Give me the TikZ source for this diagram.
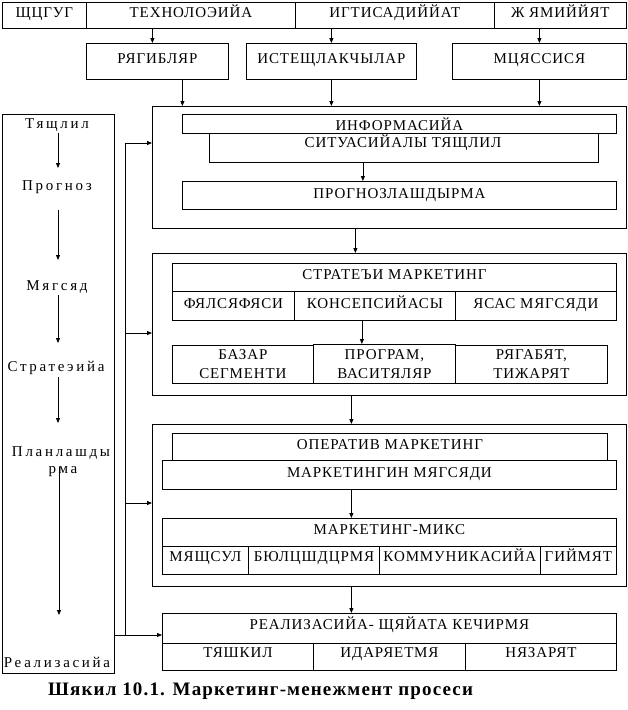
\documentclass[tikz,border=0pt]{standalone}
\usepackage{fontspec}
\setmainfont{Liberation Serif}[LetterSpace=6]
\newfontfamily\lcolfont{Liberation Serif}[LetterSpace=18]
\newfontfamily\capfont{Liberation Serif}[LetterSpace=6]
\usetikzlibrary{arrows.meta}
\newcommand\bx[6]{\node[box,minimum width=#4pt,minimum height=#5pt] (#1) at (#2,#3) {#6};}
\begin{document}
\begin{tikzpicture}[x=1pt,y=-1pt,
  every node/.style={font=\fontsize{15}{19}\selectfont},
  box/.style={draw,line width=0.8pt,inner sep=0pt,anchor=north west,align=center},
  cell/.style={text height=10pt,text depth=5pt},
  arr/.style={line width=0.8pt,-{Triangle[length=5pt,width=4pt]}},
  ln/.style={line width=0.8pt},
  lbl/.style={inner sep=0pt,font=\lcolfont\fontsize{15}{19}\selectfont}]
\useasboundingbox (0,0) rectangle (627,710);
% top row
\begin{scope}[every node/.append style={cell}]
\bx{t1}{2}{2}{84}{26}{ЩЦГУГ}
\bx{t2}{86}{2}{209}{26}{ТЕХНОЛОЭИЙА}
\bx{t3}{295}{2}{199}{26}{ИГТИСАДИЙЙАТ}
\bx{t4}{494}{2}{132}{26}{Ж ЯМИЙЙЯТ}
% second row
\bx{s1}{86}{43}{142}{36}{РЯГИБЛЯР}
\bx{s2}{246}{43}{170}{36}{ИСТЕЩЛАКЧЫЛАР}
\bx{s3}{452}{43}{174}{36}{МЦЯССИСЯ}
\end{scope}
% box 1
\bx{b1}{152}{106}{474}{122}{}
\bx{i1}{182}{114}{434}{19}{ИНФОРМАСИЙА}
\bx{i2}{209}{133}{389}{29}{}
\node[inner sep=0pt] (i2t) at (403,143) {СИТУАСИЙАЛЫ ТЯЩЛИЛ};
\bx{i3}{182}{181}{434}{28}{ПРОГНОЗЛАШДЫРМА}
% box 2
\bx{b2}{152}{253}{474}{142}{}
\begin{scope}[every node/.append style={cell}]
\bx{c1}{172}{263}{444}{28}{СТРАТЕЪИ МАРКЕТИНГ}
\bx{c2}{172}{291}{122}{29}{ФЯЛСЯФЯСИ}
\bx{c3}{294}{291}{161}{29}{КОНСЕПСИЙАСЫ}
\bx{c4}{455}{291}{161}{29}{ЯСАС МЯГСЯДИ}
\end{scope}
\bx{d1}{172}{345}{141}{38}{БАЗАР\\СЕГМЕНТИ}
\bx{d2}{313}{344}{142}{39}{ПРОГРАМ,\\ВАСИТЯЛЯР}
\bx{d3}{455}{345}{152}{38}{РЯГАБЯТ,\\ТИЖАРЯТ}
% box 3
\bx{b3}{152}{424}{474}{162}{}
\begin{scope}[every node/.append style={cell}]
\bx{e1}{172}{433}{435}{27}{ОПЕРАТИВ МАРКЕТИНГ}
\bx{e2}{162}{460}{454}{29}{МАРКЕТИНГИН МЯГСЯДИ}
\bx{f1}{162}{518}{454}{28}{МАРКЕТИНГ-МИКС}
\end{scope}
\begin{scope}[every node/.append style={text height=10pt,text depth=8pt}]
\bx{f2}{162}{546}{86}{28}{МЯЩСУЛ}
\bx{f3}{248}{546}{131}{28}{БЮЛЦШДЦРМЯ}
\bx{f4}{379}{546}{161}{28}{КОММУНИКАСИЙА}
\bx{f5}{540}{546}{76}{28}{ГИЙМЯТ}
% last box
\bx{g1}{162}{613}{454}{30}{РЕАЛИЗАСИЙА- ЩЯЙАТА КЕЧИРМЯ}
\bx{g2}{162}{643}{151}{27}{ТЯШКИЛ}
\bx{g3}{313}{643}{152}{27}{ИДАРЯЕТМЯ}
\bx{g4}{465}{643}{151}{27}{НЯЗАРЯТ}
\end{scope}
% left column
\bx{lb}{2}{114}{112}{559}{}
\node[lbl] (l1) at (57,125) {Тящлил};
\node[lbl] (l2) at (57,187) {Прогноз};
\node[lbl] (l3) at (57,287) {Мягсяд};
\node[lbl] (l4) at (56,368) {Стратеэийа};
\node[lbl] (l5) at (61,453) {Планлашды};
\node[lbl] (l5b) at (63,472) {рма};
\node[lbl] (l6) at (57,662) {Реализасийа};
% captions
\node[inner sep=0pt,anchor=base west,font=\capfont\bfseries\fontsize{19}{22}\selectfont] (cap) at (48,695) {Шякил 10.1. Маркетинг-менежмент просеси};
% arrows top
\draw[arr] ([xshift=-5pt]s1.north |- t2.south) -- ([xshift=-5pt]s1.north);
\draw[arr] (s2.north |- t3.south) -- (s2.north);
\draw[arr] (s3.north |- t4.south) -- (s3.north);
\draw[arr] ([xshift=25pt]s1.south) -- ([xshift=25pt]s1.south |- b1.north);
\draw[arr] (s2.south) -- (s2.south |- b1.north);
\draw[arr] (s3.south) -- (s3.south |- b1.north);
% inner arrows
\draw[arr] ([xshift=-41pt]i2.south) -- ([xshift=-41pt]i2.south |- i3.north);
\draw[arr] ([xshift=-34pt]b1.south) -- ([xshift=-34pt]b1.south |- b2.north);
\draw[arr] ([xshift=-13pt]c3.south) -- ([xshift=-13pt]c3.south |- d2.north);
\draw[arr] ([xshift=-38pt]b2.south) -- ([xshift=-38pt]b2.south |- b3.north);
\draw[arr] ([xshift=-38pt]e2.south) -- ([xshift=-38pt]e2.south |- f1.north);
\draw[arr] ([xshift=-38pt]b3.south) -- ([xshift=-38pt]b3.south |- g1.north);
% feedback line
\coordinate (j1) at (125,143);
\coordinate (j2) at (125,333);
\coordinate (j3) at (125,503);
\coordinate (j4) at (125,635);
\draw[ln] (j1) -- (j4);
\draw[arr] (j1) -- (j1 -| b1.west);
\draw[arr] (j2) -- (j2 -| b2.west);
\draw[arr] (j3) -- (j3 -| b3.west);
\draw[arr] (j4 -| lb.east) -- (j4 -| g1.west);
% left column arrows
\draw[arr] ([xshift=1pt,yshift=-8pt]l1.center) -- ([xshift=1pt,yshift=-43pt]l1.center);
\draw[arr] ([xshift=1pt,yshift=-23pt]l2.center) -- ([xshift=1pt,yshift=-73pt]l2.center);
\draw[arr] ([xshift=1pt,yshift=-8pt]l3.center) -- ([xshift=1pt,yshift=-56pt]l3.center);
\draw[arr] ([xshift=2pt,yshift=-9pt]l4.center) -- ([xshift=2pt,yshift=-55pt]l4.center);
\draw[arr] ([xshift=-4pt,yshift=5pt]l5b.center) -- ([xshift=-4pt,yshift=-143pt]l5b.center);
\end{tikzpicture}
\end{document}
